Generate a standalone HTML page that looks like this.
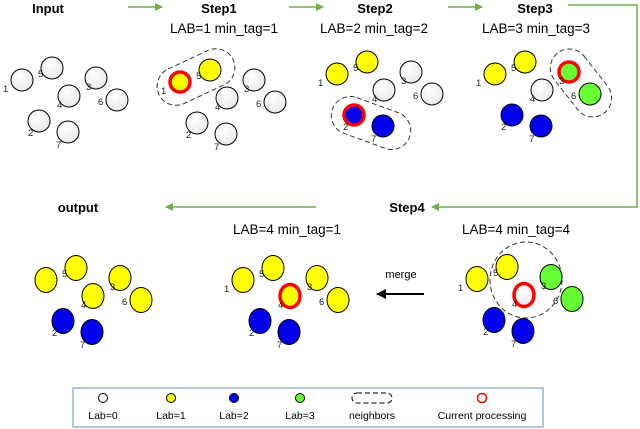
<!DOCTYPE html>
<html><head><meta charset="utf-8"><style>
html,body{margin:0;padding:0;background:#fff}
svg{display:block}
text{font-family:"Liberation Sans",sans-serif}
</style></head><body>
<svg width="640" height="429" viewBox="0 0 640 429" xmlns="http://www.w3.org/2000/svg">
<defs>
<marker id="ga" markerWidth="8" markerHeight="8" refX="7" refY="4" orient="auto" markerUnits="userSpaceOnUse"><path d="M0,0 L8,4 L0,8 z" fill="#70ad47"/></marker>
<marker id="ka" markerWidth="10" markerHeight="10" refX="9" refY="5" orient="auto" markerUnits="userSpaceOnUse"><path d="M0,0 L10,5 L0,10 z" fill="#000"/></marker>
<radialGradient id="wg" cx="0.4" cy="0.35" r="0.7"><stop offset="0" stop-color="#fff"/><stop offset="1" stop-color="#e8e8ec"/></radialGradient>
</defs>
<g font-weight="bold" font-size="13" fill="#000">
<text x="48" y="13" text-anchor="middle">Input</text>
<text x="219" y="13" text-anchor="middle">Step1</text>
<text x="375" y="13" text-anchor="middle">Step2</text>
<text x="535" y="13" text-anchor="middle">Step3</text>
<text x="407" y="212" text-anchor="middle">Step4</text>
<text x="78" y="212" text-anchor="middle">output</text>
</g>
<g font-size="13.5" fill="#000" xml:space="preserve">
<text x="224" y="33" text-anchor="middle">LAB=1  min_tag=1</text>
<text x="374" y="33" text-anchor="middle">LAB=2  min_tag=2</text>
<text x="536" y="33" text-anchor="middle">LAB=3  min_tag=3</text>
<text x="287" y="234" text-anchor="middle">LAB=4  min_tag=1</text>
<text x="516" y="234" text-anchor="middle">LAB=4  min_tag=4</text>
<text x="401" y="278" text-anchor="middle" font-size="11">merge</text>
</g>
<g stroke="#70ad47" stroke-width="1.5" fill="none">
<line x1="128" y1="7" x2="162" y2="7" marker-end="url(#ga)"/>
<line x1="289" y1="7" x2="323" y2="7" marker-end="url(#ga)"/>
<line x1="448" y1="7" x2="482" y2="7" marker-end="url(#ga)"/>
<polyline points="568,5 637,5 637,207 432,207" marker-end="url(#ga)"/>
<line x1="316" y1="207" x2="166" y2="207" marker-end="url(#ga)"/>
</g>
<line x1="424" y1="294" x2="377" y2="294" stroke="#000" stroke-width="2" marker-end="url(#ka)"/>
<g fill="none" stroke="#333" stroke-width="1" stroke-dasharray="5,3">
<rect x="155" y="58" width="82" height="38" rx="19" transform="rotate(-25 196 77)"/>
<rect x="330" y="104" width="82" height="38" rx="19" transform="rotate(20 371 123)"/>
<rect x="543" y="64" width="76" height="38" rx="19" transform="rotate(52 581 83)"/>
<ellipse cx="526" cy="280" rx="36" ry="38"/>
</g>
<g id="panels" stroke="#000" stroke-width="1">
</g>
<rect x="73" y="388" width="470" height="39" fill="none" stroke="#7f9fcf" stroke-width="1.2"/>
<g stroke-width="1">
<circle cx="103" cy="398" r="4.5" fill="#fff" stroke="#000"/>
<circle cx="171" cy="398" r="4.5" fill="#ff0" stroke="#000"/>
<circle cx="234" cy="398" r="4.5" fill="#00f" stroke="#000"/>
<circle cx="300" cy="398" r="4.5" fill="#66ff33" stroke="#000"/>
<rect x="352" y="393" width="40" height="10" rx="5" fill="none" stroke="#000" stroke-dasharray="5,3"/>
<circle cx="482" cy="398" r="4.5" fill="#fff" stroke="#f00" stroke-width="1.5"/>
</g>
<g font-size="10.5" fill="#000" text-anchor="middle">
<text x="103" y="419">Lab=0</text>
<text x="171" y="419">Lab=1</text>
<text x="234" y="419">Lab=2</text>
<text x="300" y="419">Lab=3</text>
<text x="372" y="419">neighbors</text>
<text x="482" y="419">Current processing</text>
</g>
<script>
var pos={1:[22,80],5:[52,68],3:[96,78],4:[69,96],6:[117,100],2:[39,121],7:[68,132]};
var lab={1:[-19,12],5:[-14,9],3:[-10,12],4:[-12,12],6:[-19,5],2:[-11,15],7:[-12,16]};
var W='url(#wg)',Y='#ffff00',B='#0000ee',G='#66ff33';
var panels=[
 {dx:0,dy:0,c:{1:W,2:W,3:W,4:W,5:W,6:W,7:W}},
 {dx:158,dy:2,c:{1:Y,2:W,3:W,4:W,5:Y,6:W,7:W},cur:1},
 {dx:315,dy:-6,c:{1:Y,2:B,3:W,4:W,5:Y,6:W,7:B},cur:2},
 {dx:473,dy:-6,c:{1:Y,2:B,3:G,4:W,5:Y,6:G,7:B},cur:3},
 {dx:24,dy:200,c:{1:Y,2:B,3:Y,4:Y,5:Y,6:Y,7:B},big:1,nolab1:1},
 {dx:221,dy:200,c:{1:Y,2:B,3:Y,4:Y,5:Y,6:Y,7:B},cur:4,big:1},
 {dx:455,dy:199,c:{1:Y,2:B,3:G,4:W,5:Y,6:G,7:B},cur:4,big:1}
];
var ns='http://www.w3.org/2000/svg',g=document.getElementById('panels');
panels.forEach(function(p){
 for(var k in pos){
  var x=pos[k][0]+p.dx,y=pos[k][1]+p.dy;
  var e=document.createElementNS(ns,'ellipse');
  e.setAttribute('cx',x);e.setAttribute('cy',y);
  e.setAttribute('rx',11);e.setAttribute('ry',p.big?12.5:11);
  e.setAttribute('fill',p.c[k]);
  if(p.cur==k){e.setAttribute('stroke','#f00');e.setAttribute('stroke-width','3.5');e.setAttribute('rx',10);e.setAttribute('ry',p.big?11.5:10);}
  else e.setAttribute('stroke','#000');
  g.appendChild(e);
  if(p.nolab1&&k=='1')continue;
  var t=document.createElementNS(ns,'text');
  t.setAttribute('x',x+lab[k][0]);t.setAttribute('y',y+lab[k][1]);
  t.setAttribute('font-size','9.5');t.setAttribute('fill','#222');t.setAttribute('stroke','none');
  t.textContent=k;g.appendChild(t);
 }
});
</script>
</svg>
</body></html>
